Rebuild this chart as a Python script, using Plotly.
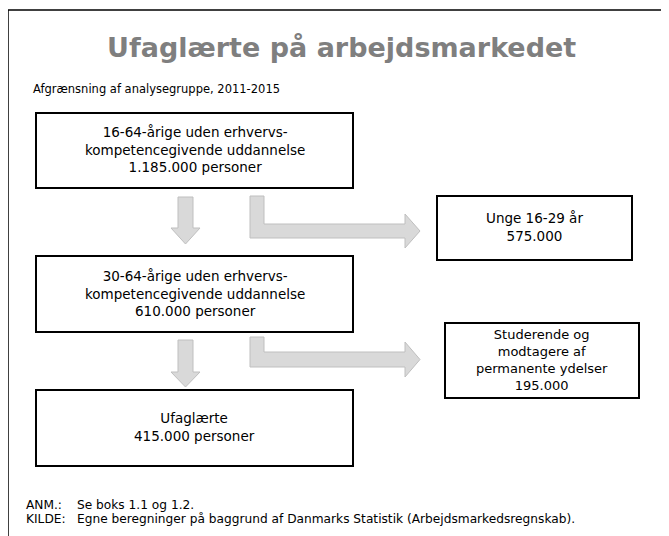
import plotly.graph_objects as go

# ---- data (texts) ----
title_text = "Ufaglærte på arbejdsmarkedet"
subtitle_text = "Afgrænsning af analysegruppe, 2011-2015"
node_labels = [
    "16-64-årige uden erhvervs-<br>kompetencegivende uddannelse<br>1.185.000 personer",
    "30-64-årige uden erhvervs-<br>kompetencegivende uddannelse<br>610.000 personer",
    "Ufaglærte<br>415.000 personer",
    "Unge 16-29 år<br>575.000",
    "Studerende og<br>modtagere af<br>permanente ydelser<br>195.000",
]
note_labels = ["ANM.:", "KILDE:"]
note_texts = ["Se boks 1.1 og 1.2.",
              "Egne beregninger på baggrund af Danmarks Statistik (Arbejdsmarkedsregnskab)."]

# ---- layout geometry (page pixel coordinates on a hidden axis) ----
W, H = 669, 536
OFF = 8  # page body margin
boxes = [(36, 353, 113, 188), (36, 353, 256, 332), (36, 353, 390, 466),
         (437, 632, 196, 260), (445, 639, 323, 398)]
box_font = [13.5, 13.5, 13.5, 13.5, 13]
down_arrows = [(197, 228, 244), (340, 372, 387)]   # shaft top, head base, tip
bent_arrows = [(196, 224, 238), (337, 352, 367)]   # top, band top, band bottom

FONT = "DejaVu Sans"
fig = go.Figure()
fig.add_trace(go.Scatter(x=[OFF, W + OFF], y=[OFF, H + OFF], mode="markers",
                         marker=dict(opacity=0), hoverinfo="skip", showlegend=False))

shapes = []
# outer frame (top and left)
shapes.append(dict(type="line", x0=8, x1=W + 20, y0=10, y1=10, line=dict(color="black", width=1.5)))
shapes.append(dict(type="line", x0=8, x1=8, y0=10, y1=H + 20, line=dict(color="black", width=1.5)))

arrow_fill = "#d9d9d9"
arrow_line = "#bfbfbf"
for (t, hb, tip) in down_arrows:
    p = f"M178,{t} L193,{t} L193,{hb} L200,{hb} L185.5,{tip} L171,{hb} L178,{hb} Z"
    shapes.append(dict(type="path", path=p, fillcolor=arrow_fill, line=dict(color=arrow_line, width=1)))
for (t, bt, bb) in bent_arrows:
    mid = (bt + bb) / 2
    p = (f"M250,{t} L264,{t} L264,{bt} L405,{bt} L405,{bt-10} L420,{mid} "
         f"L405,{bb+10} L405,{bb} L250,{bb} Z")
    shapes.append(dict(type="path", path=p, fillcolor=arrow_fill, line=dict(color=arrow_line, width=1)))

for (x0, x1, y0, y1) in boxes:
    shapes.append(dict(type="rect", x0=x0, x1=x1, y0=y0, y1=y1, fillcolor="white",
                       line=dict(color="black", width=2)))

annotations = []
annotations.append(dict(x=341, y=47, text=f"<b>{title_text}</b>", showarrow=False,
                        font=dict(family=FONT, size=27, color="#7f7f7f"),
                        xanchor="center", yanchor="middle"))
annotations.append(dict(x=31, y=89, text=subtitle_text, showarrow=False,
                        font=dict(family=FONT, size=11.5, color="black"),
                        xanchor="left", yanchor="middle"))
for lbl, (x0, x1, y0, y1), fs in zip(node_labels, boxes, box_font):
    annotations.append(dict(x=(x0 + x1) / 2, y=(y0 + y1) / 2 - 1, text=lbl, showarrow=False,
                            font=dict(family=FONT, size=fs, color="black"),
                            xanchor="center", yanchor="middle", align="center"))
for i, (a, b) in enumerate(zip(note_labels, note_texts)):
    y = 505 + i * 14
    annotations.append(dict(x=24, y=y, text=a, showarrow=False,
                            font=dict(family=FONT, size=12.2, color="black"),
                            xanchor="left", yanchor="middle"))
    annotations.append(dict(x=75, y=y, text=b, showarrow=False,
                            font=dict(family=FONT, size=12.2, color="black"),
                            xanchor="left", yanchor="middle"))

fig.update_layout(
    width=W, height=H, margin=dict(l=0, r=0, t=0, b=0),
    paper_bgcolor="white", plot_bgcolor="white",
    xaxis=dict(range=[OFF, W + OFF], visible=False, fixedrange=True),
    yaxis=dict(range=[H + OFF, OFF], visible=False, fixedrange=True),
    shapes=shapes, annotations=annotations, showlegend=False,
)
fig.write_html("out.html")
